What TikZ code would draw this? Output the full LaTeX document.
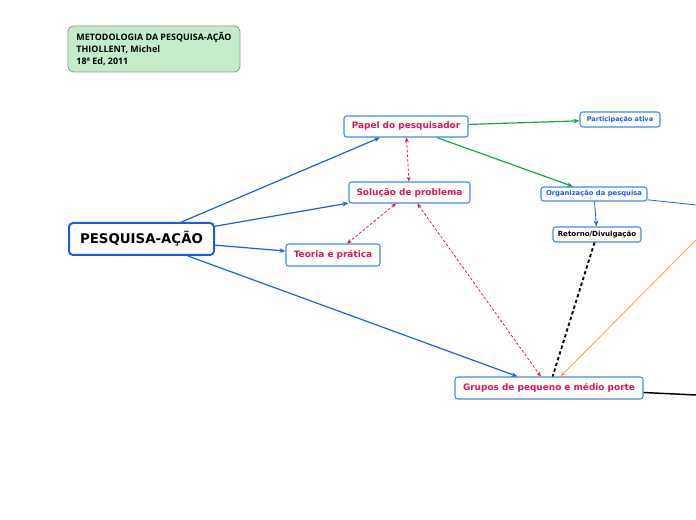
\documentclass[tikz,border=0pt]{standalone}
\usepackage{fontspec}
\setmainfont{DejaVu Sans}
\newfontfamily\notefont{Open Sans}
\usepackage{tikz}
\usetikzlibrary{arrows.meta}
\definecolor{MMBlue}{RGB}{25,95,230}
\definecolor{MMEdge}{RGB}{60,140,235}
\definecolor{MMRed}{RGB}{222,20,90}
\definecolor{MMGreen}{RGB}{20,165,70}
\definecolor{MMOrange}{RGB}{245,165,50}
\definecolor{MMNote}{RGB}{195,237,202}
\definecolor{MMNoteEdge}{RGB}{125,165,125}

\begin{document}
\begin{tikzpicture}[x=0.75pt, y=-0.75pt,
          box/.style={rectangle, rounded corners=2pt, draw=MMEdge, fill=white,
                      line width=0.8pt, inner sep=0pt, align=center},
          redtxt/.style={box, text=MMRed, font=\bfseries\fontsize{6.7}{7}\selectfont},
          bluetxt/.style={box, text=MMBlue, font=\bfseries\fontsize{5.1}{5}\selectfont},
          arr/.style={-{Stealth[length=4.5pt, width=3.5pt]}, line width=0.9pt},
          dasharr/.style={{Stealth[length=3.5pt, width=3pt]}-{Stealth[length=3.5pt, width=3pt]},
                          MMRed, line width=0.6pt, dash pattern=on 2pt off 1.5pt}
        ]
        \useasboundingbox (0,0) rectangle (696,520);

        % note
        \node[rectangle, rounded corners=4pt, fill=MMNote, draw=MMNoteEdge, line width=0.6pt,
              minimum width=129pt, minimum height=34.5pt, inner sep=0pt, align=left,
              font=\notefont\bfseries\fontsize{6.7}{8.7}\selectfont] (note) at (154,49)
              {METODOLOGIA DA PESQUISA-AÇÃO\\THIOLLENT, Michel\\18ª Ed, 2011};

        \node[box, draw=MMBlue, line width=1.5pt, rounded corners=3pt,
              minimum width=108.75pt, minimum height=24pt,
              font=\bfseries\fontsize{10}{11}\selectfont] (pa) at (141.5,239) {PESQUISA-AÇÃO};

        \node[redtxt, minimum width=93pt, minimum height=15.75pt] (papel) at (406,126.5)
              {Papel do pesquisador};
        \node[redtxt, minimum width=90.75pt, minimum height=15.75pt] (sol) at (409.5,192.5)
              {Solução de problema};
        \node[redtxt, minimum width=70.5pt, minimum height=16.5pt] (teoria) at (333,255)
              {Teoria e prática};
        \node[redtxt, minimum width=141pt, minimum height=16.5pt] (grupos) at (549,388)
              {Grupos de pequeno e médio porte};
        \node[bluetxt, minimum width=60pt, minimum height=11.25pt,
              font=\bfseries\fontsize{4.9}{5}\selectfont] (part) at (620,119.5)
              {Participação ativa};
        \node[bluetxt, minimum width=79.5pt, minimum height=10.5pt] (org) at (594,194)
              {Organização da pesquisa};
        \node[bluetxt, text=black, minimum width=66pt, minimum height=11.25pt,
              font=\bfseries\fontsize{5.3}{5}\selectfont] (ret) at (597,234.5)
              {Retorno/Divulgação};

        % ends leaving the page
        \coordinate (offA) at (696,205);
        \coordinate (offB) at (696,240);
        \coordinate (offC) at (696,395);

        \draw[arr, MMBlue] (pa)--(papel);
        \draw[arr, MMBlue] (pa)--(sol);
        \draw[arr, MMBlue] (pa)--(teoria);
        \draw[arr, MMBlue] (pa)--(grupos);
        \draw[arr, MMGreen] (papel)--(part);
        \draw[arr, MMGreen] (papel)--(org);
        \draw[arr, MMBlue, line width=0.6pt] (org)--(ret);
        \draw[MMBlue, line width=0.6pt] (org)--(offA);

        \draw[dasharr] (papel)--(sol);
        \draw[dasharr] (sol)--(teoria);
        \draw[dasharr] (sol)--(grupos);

        \draw[black, line width=1.4pt, dash pattern=on 2.5pt off 2pt] (ret)--(grupos);
        \draw[-{Stealth[length=4pt, width=3pt]}, MMOrange, line width=0.6pt] (offB)--(grupos);
        \draw[black, line width=1.1pt] (grupos)--(offC);
      \end{tikzpicture}
\end{document}
